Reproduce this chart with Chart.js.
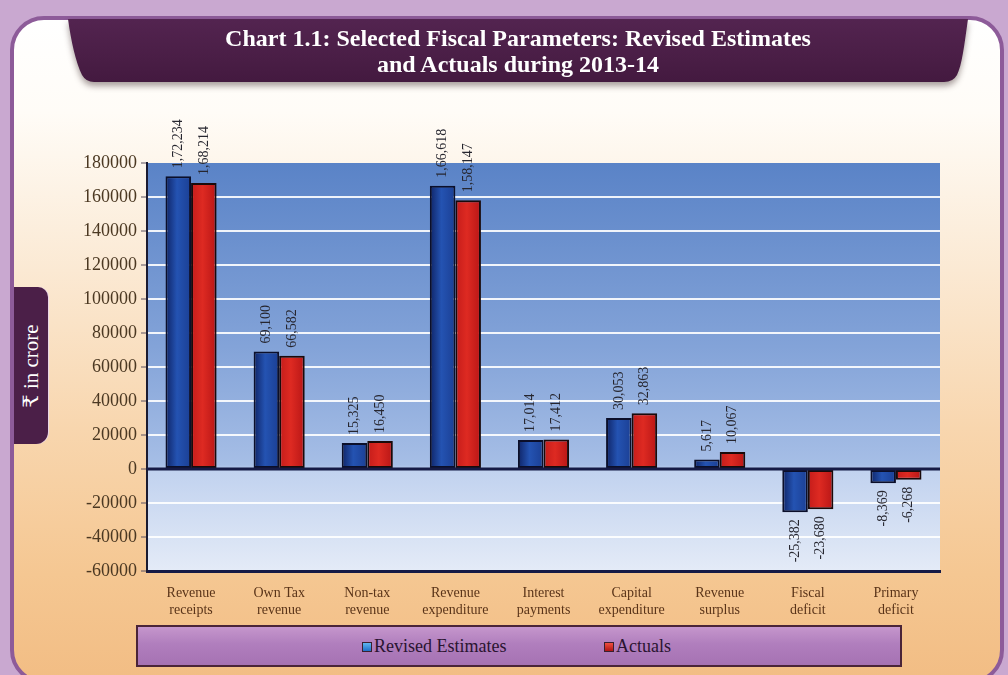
<!DOCTYPE html>
<html>
<head>
<meta charset="utf-8">
<script src="https://cdn.jsdelivr.net/npm/chart.js@4.4.1/dist/chart.umd.min.js"></script>
<style>
  html, body { margin: 0; padding: 0; background: #c9a8d0; }
  #stage { position: relative; width: 1008px; height: 675px; overflow: hidden; background: #c9a8d0; }
  .panel {
    position: absolute; left: 10px; top: 16px; width: 986px; height: 660px;
    border: 4px solid #8d5b99; border-radius: 34px;
    background: linear-gradient(to bottom, #ffffff 0%, #fffcf7 14%, #fbe9d3 38%, #f8d6ae 62%, #f5c792 84%, #f2bd84 100%);
  }
  .bannerWrap { position: absolute; left: 68px; top: 19px; width: 900px; height: 66px;
    filter: drop-shadow(0 4px 3px rgba(60,40,40,0.45)); }
  .banner {
    position: absolute; left: 0; top: 0; width: 900px; height: 64px;
    background: linear-gradient(to bottom, #532450, #4a1e46 60%, #43193f);
    clip-path: path('M0,0 L900,0 C896,28 894,46 889,56 Q885,63 876,63 L26,63 Q18,63 14,56 C8,44 3,22 0,0 Z');
  }
  .title {
    position: absolute; left: 0; top: 6px; width: 900px; text-align: center;
    font-family: "Liberation Serif", "DejaVu Serif", serif; font-weight: bold;
    font-size: 24px; line-height: 26px; color: #ffffff;
  }
  .tab {
    position: absolute; left: 14px; top: 287px; width: 34px; height: 157px;
    background: #4b1f48; border-radius: 0 10px 12px 0;
    box-shadow: 1px 0 0 #e9d6e6;
  }
  .tab span {
    position: absolute; left: 50%; top: 50%;
    transform: translate(-50%, -50%) rotate(-90deg);
    white-space: nowrap; color: #ffffff;
    font-family: "Liberation Serif", "DejaVu Serif", serif; font-size: 21px;
  }
  canvas { position: absolute; left: 0; top: 0; }
  .legend {
    position: absolute; left: 136px; top: 625px; width: 762px; height: 38px;
    border: 2px solid #4a2438;
    background: linear-gradient(to bottom, #c596cc 0%, #b07ebd 45%, #a672b3 100%);
  }
  .legend .item { position: absolute; top: 8px; height: 22px; line-height: 22px;
    font-family: "Liberation Serif", "DejaVu Serif", serif; font-size: 18px; color: #2a1430; white-space: nowrap; }
  .legend .sw { display: inline-block; width: 10px; height: 10px; margin-right: 2px; vertical-align: 0px;
    border: 1px solid #3a2030; box-sizing: border-box; }
</style>
</head>
<body>
<div id="stage">
  <div class="panel"></div>
  <div class="bannerWrap"><div class="banner"></div>
    <div class="title">Chart 1.1: Selected Fiscal Parameters: Revised Estimates<br>and Actuals during 2013-14</div>
  </div>
  <div class="tab"><span>₹ in crore</span></div>
  <canvas id="chart" width="1008" height="675"></canvas>
  <div class="legend" id="legend"></div>
</div>
<script>
// Categories (two-line labels) and the two series, in ₹ crore
const categories = [
  ["Revenue", "receipts"],
  ["Own Tax", "revenue"],
  ["Non-tax", "revenue"],
  ["Revenue", "expenditure"],
  ["Interest", "payments"],
  ["Capital", "expenditure"],
  ["Revenue", "surplus"],
  ["Fiscal", "deficit"],
  ["Primary", "deficit"]
];
const revisedEstimates = [172234, 69100, 15325, 166618, 17014, 30053, 5617, -25382, -8369];
const actuals = [168214, 66582, 16450, 158147, 17412, 32863, 10067, -23680, -6268];
const seriesNames = ["Revised Estimates", "Actuals"];
const yTicks = [-60000, -40000, -20000, 0, 20000, 40000, 60000, 80000, 100000, 120000, 140000, 160000, 180000];

const CAT_PCT = 0.58;
const serif = '"Liberation Serif", "DejaVu Serif", serif';

// Indian digit grouping: 1,72,234
function inr(v) {
  const s = Math.abs(v).toString();
  let tail = s.slice(-3), head = s.slice(0, -3);
  if (head) tail = ',' + tail;
  head = head.replace(/\B(?=(\d{2})+(?!\d))/g, ',');
  return (v < 0 ? '-' : '') + head + tail;
}

// Horizontal shading across each bar
function barFill(stops) {
  return (ctx) => {
    const chart = ctx.chart;
    const xs = chart.scales.x;
    if (!xs || ctx.type !== 'data' || !xs.width) return stops[1];
    const c = xs.getPixelForValue(ctx.dataIndex);
    const w = xs.width / categories.length * CAT_PCT / 2;
    const left = ctx.datasetIndex === 0 ? c - w : c;
    const g = chart.ctx.createLinearGradient(left, 0, left + w, 0);
    g.addColorStop(0, stops[0]);
    g.addColorStop(0.45, stops[1]);
    g.addColorStop(1, stops[2]);
    return g;
  };
}

const plotBackground = {
  id: 'plotBackground',
  beforeDraw(chart) {
    const { ctx, chartArea: a } = chart;
    const g = ctx.createLinearGradient(0, a.top, 0, a.bottom);
    g.addColorStop(0, '#5a83c7');
    g.addColorStop(0.45, '#83a3d8');
    g.addColorStop(0.74, '#a6bee6');
    g.addColorStop(0.755, '#c1d2ef');
    g.addColorStop(1, '#e4ebf7');
    ctx.save();
    ctx.fillStyle = g;
    ctx.fillRect(a.left, a.top, a.right - a.left, a.bottom - a.top);
    ctx.restore();
  }
};

const valueLabels = {
  id: 'valueLabels',
  afterDatasetsDraw(chart) {
    const { ctx, chartArea: a } = chart;
    const y0 = chart.scales.y.getPixelForValue(0);
    ctx.save();
    // zero line over the bar bases
    ctx.strokeStyle = '#151a45';
    ctx.lineWidth = 3;
    ctx.beginPath();
    ctx.moveTo(a.left, y0);
    ctx.lineTo(a.right, y0);
    ctx.stroke();
    ctx.font = '14px ' + serif;
    ctx.fillStyle = '#26262f';
    ctx.textBaseline = 'middle';
    chart.data.datasets.forEach((ds, di) => {
      const meta = chart.getDatasetMeta(di);
      meta.data.forEach((bar, i) => {
        const v = ds.data[i];
        ctx.save();
        ctx.translate(bar.x, v >= 0 ? bar.y - 8 : bar.y + 7);
        ctx.rotate(-Math.PI / 2);
        ctx.textAlign = v >= 0 ? 'left' : 'right';
        ctx.fillText(inr(v), 0, 0);
        ctx.restore();
      });
    });
    ctx.restore();
  }
};

const chart = new Chart(document.getElementById('chart'), {
  type: 'bar',
  data: {
    labels: categories,
    datasets: [
      {
        label: seriesNames[0],
        data: revisedEstimates,
        backgroundColor: barFill(['#0f2466', '#2453b2', '#1b3f94']),
        borderColor: '#0b0f2a',
        borderWidth: 2,
        borderSkipped: false
      },
      {
        label: seriesNames[1],
        data: actuals,
        backgroundColor: barFill(['#c41c1a', '#de2a22', '#b81616']),
        borderColor: '#1a0a0a',
        borderWidth: 2,
        borderSkipped: false
      }
    ]
  },
  options: {
    responsive: false,
    devicePixelRatio: 1,
    animation: false,
    layout: { padding: { left: 40, top: 163, right: 68, bottom: 0 } },
    datasets: { bar: { categoryPercentage: CAT_PCT, barPercentage: 1 } },
    plugins: {
      legend: { display: false },
      title: { display: false },
      tooltip: { enabled: false }
    },
    scales: {
      x: {
        grid: { display: false },
        border: { color: '#151a45', width: 3 },
        ticks: {
          color: '#5a3419',
          font: { family: serif, size: 14 },
          padding: 6,
          maxRotation: 0,
          autoSkip: false
        },
        afterFit(scale) { scale.height = 104; }
      },
      y: {
        min: -60000,
        max: 180000,
        afterBuildTicks(scale) { scale.ticks = yTicks.map(v => ({ value: v })); },
        grid: {
          color: (c) => (c.tick && (c.tick.value === 0 || c.tick.value === 180000 || c.tick.value === -60000))
            ? 'rgba(0,0,0,0)' : 'rgba(255,255,255,0.9)',
          lineWidth: 2,
          tickColor: '#5a5060',
          tickLength: 6,
          tickWidth: 1
        },
        border: { color: '#1a1a30', width: 2 },
        ticks: {
          color: '#4b3822',
          font: { family: serif, size: 18 },
          padding: 4,
          callback: (v) => String(v)
        },
        afterFit(scale) { scale.width = 107; }
      }
    }
  },
  plugins: [plotBackground, valueLabels]
});

// Legend strip below the chart
const legendColors = [
  'linear-gradient(to bottom, #5fb6f0, #1f6fc8)',
  'linear-gradient(to bottom, #f05040, #b01414)'
];
const legendX = [224, 466];
const legendEl = document.getElementById('legend');
seriesNames.forEach((name, i) => {
  const item = document.createElement('div');
  item.className = 'item';
  item.style.left = legendX[i] + 'px';
  const sw = document.createElement('span');
  sw.className = 'sw';
  sw.style.background = legendColors[i];
  item.appendChild(sw);
  item.appendChild(document.createTextNode(name));
  legendEl.appendChild(item);
});
</script>
</body>
</html>
